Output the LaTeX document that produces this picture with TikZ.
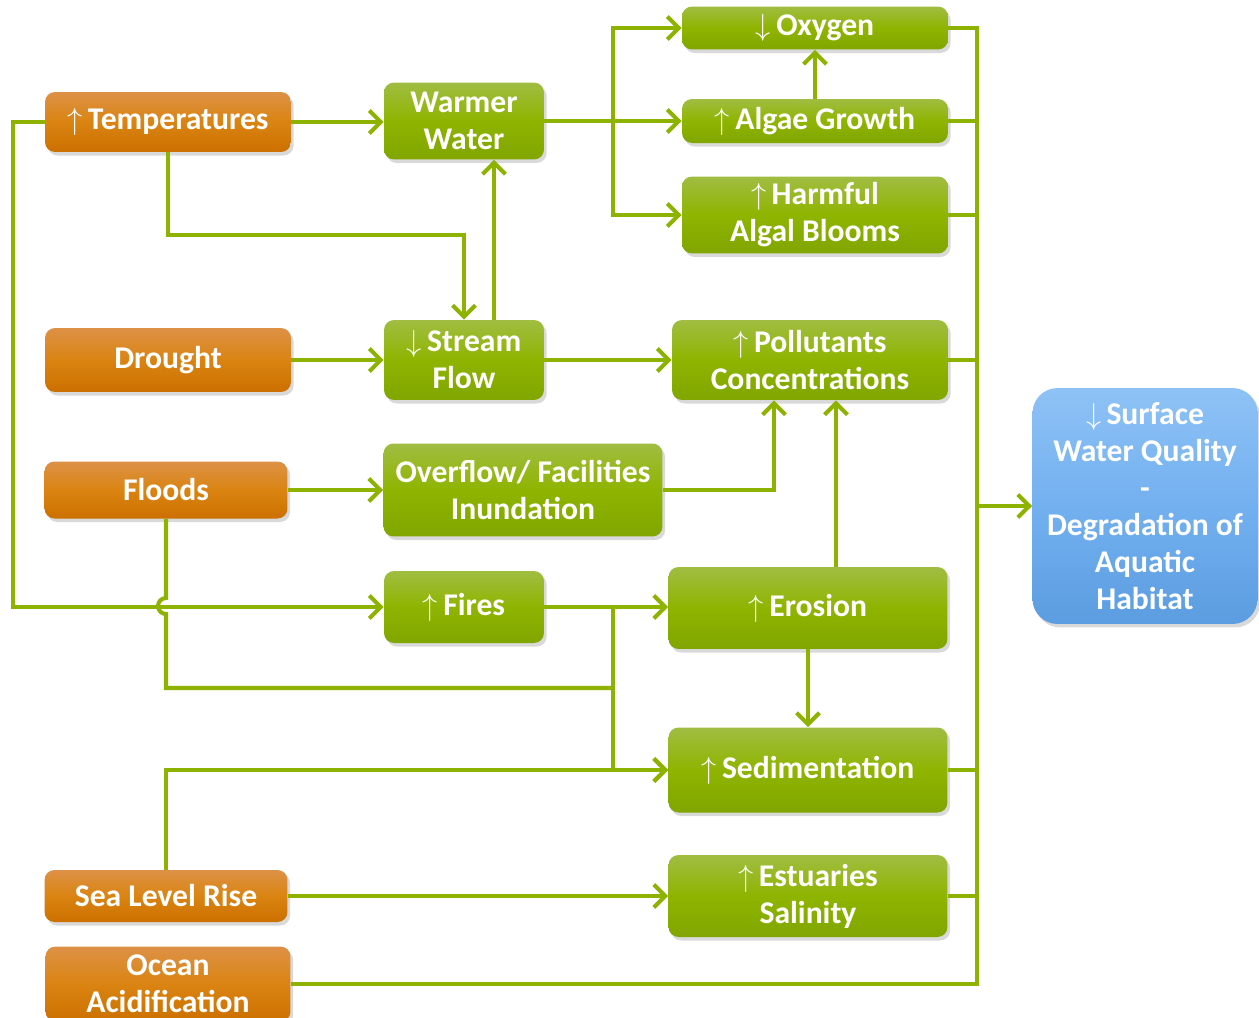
\documentclass[tikz,border=0pt]{standalone}
\usepackage{fontspec}
\setmainfont{Carlito}
\usetikzlibrary{calc, arrows.meta, shadows}

\definecolor{wire}{RGB}{141,178,0}
\definecolor{gtop}{RGB}{160,189,66}
\definecolor{gmid}{RGB}{143,180,0}
\definecolor{gbot}{RGB}{128,166,0}
\definecolor{otop}{RGB}{221,145,70}
\definecolor{omid}{RGB}{218,132,18}
\definecolor{obot}{RGB}{204,112,0}
\definecolor{btop}{RGB}{142,194,245}
\definecolor{bmid}{RGB}{115,176,240}
\definecolor{bbot}{RGB}{91,157,224}

\newcommand{\upa}{$\uparrow$\,}
\newcommand{\dna}{$\downarrow$\,}

\begin{document}
\begin{tikzpicture}[x=0.02cm, y=-0.02cm,
  box/.style={rounded corners=0.2cm, inner sep=0pt, align=center, text=white,
    font=\fontsize{18}{21}\selectfont\bfseries,
    drop shadow={shadow xshift=1.5pt, shadow yshift=-2pt, opacity=0.3}},
  cause/.style={box, top color=otop, bottom color=obot, middle color=omid},
  effect/.style={box, top color=gtop, bottom color=gbot, middle color=gmid},
  result/.style={box, rounded corners=0.5cm, top color=btop, bottom color=bbot, middle color=bmid},
  wire/.style={draw=wire, line width=2.3pt},
  arr/.style={wire, -{Straight Barb[length=6.5pt, width=13pt]}}]
  \useasboundingbox (0,0) rectangle (1259,1018);
  % climate drivers
  \node[cause, minimum width=4.92cm, minimum height=1.2cm] (temp) at (168,122) {\upa Temperatures};
  \node[cause, minimum width=4.92cm, minimum height=1.28cm] (drought) at (168,360) {Drought};
  \node[cause, minimum width=4.86cm, minimum height=1.14cm] (floods) at (166,490) {Floods};
  \node[cause, minimum width=4.86cm, minimum height=1.04cm] (slr) at (166,896) {Sea Level Rise};
  \node[cause, minimum width=4.9cm, minimum height=1.5cm] (ocean) at (168,984) {Ocean\\Acidification};
  % first order effects
  \node[effect, minimum width=3.2cm, minimum height=1.54cm] (warm) at (464,121) {Warmer\\Water};
  \node[effect, minimum width=3.2cm, minimum height=1.6cm] (stream) at (464,360) {\dna Stream\\Flow};
  \node[effect, minimum width=5.58cm, minimum height=1.86cm] (overflow) at (523,490) {Overflow/ Facilities\\Inundation};
  \node[effect, minimum width=3.2cm, minimum height=1.44cm] (fires) at (464,607) {\upa Fires};
  % second order effects
  \node[effect, minimum width=5.32cm, minimum height=0.86cm] (oxy) at (815,28) {\dna Oxygen};
  \node[effect, minimum width=5.32cm, minimum height=0.88cm] (algae) at (815,121) {\upa Algae Growth};
  \node[effect, minimum width=5.32cm, minimum height=1.54cm] (hab) at (815,215) {\upa Harmful\\Algal Blooms};
  \node[effect, minimum width=5.52cm, minimum height=1.6cm] (poll) at (810,360) {\upa Pollutants\\Concentrations};
  \node[effect, minimum width=5.58cm, minimum height=1.64cm] (eros) at (808,608) {\upa Erosion};
  \node[effect, minimum width=5.58cm, minimum height=1.7cm] (sed) at (808,770) {\upa Sedimentation};
  \node[effect, minimum width=5.58cm, minimum height=1.64cm] (est) at (808,896) {\upa Estuaries\\Salinity};
  % outcome
  \node[result, minimum width=4.5cm, minimum height=4.72cm] (sw) at (1145,506)
    {\dna Surface\\Water Quality\\-\\Degradation of\\Aquatic\\Habitat};

  % temperatures
  \draw[arr] (temp.east) -- (temp.east -| warm.west);
  \draw[arr] (temp.south) |- (300,235) -| (stream.north);
  \draw[arr] (temp.west) -- ++(-32,0) |- (fires.west);
  \draw[arr] ($(stream.north)+(30,0)$) -- ($(warm.south)+(30,0)$);
  % warmer water branches
  \coordinate (br) at (613,121);
  \draw[arr] (warm.east) -- (warm.east -| algae.west);
  \draw[arr] (br) |- (oxy.west);
  \draw[arr] (br) |- (hab.west);
  \draw[arr] (algae.north) -- (oxy.south);
  % drought, stream flow
  \draw[arr] (drought.east) -- (drought.east -| stream.west);
  \draw[arr] (stream.east) -- (stream.east -| poll.west);
  % floods
  \draw[arr] (floods.east) -- (floods.east -| overflow.west);
  \coordinate (ov) at ($(poll.south)+(-36,0)$);
  \draw[arr] (overflow.east) -| (ov);
  \coordinate (jn) at (613,607);
  \draw[wire] (floods.south) -- (166,598) arc (270:90:8) -- (166,688) -- (jn |- 0,688);
  % fires, erosion, sedimentation
  \draw[arr] (fires.east) -- (fires.east -| eros.west);
  \draw[arr] (jn) |- (sed.west);
  \coordinate (e1) at ($(eros.north)+(28,0)$);
  \draw[arr] (e1) -- (e1 |- poll.south);
  \draw[arr] (eros.south) -- (sed.north);
  % sea level rise
  \draw[arr] (slr.north) |- (sed.west);
  \draw[arr] (slr.east) -- (slr.east -| est.west);
  % collector to surface water quality
  \coordinate (bt) at (977,28);
  \coordinate (bb) at (977,984);
  \draw[wire] (oxy.east) -- (bt) -- (bb) -- (ocean.east |- bb);
  \foreach \n in {algae, hab, poll, sed, est}
    \draw[wire] (\n.east) -- (\n.east -| bt);
  \draw[arr] (bt |- sw.west) -- (sw.west);
\end{tikzpicture}
\end{document}
